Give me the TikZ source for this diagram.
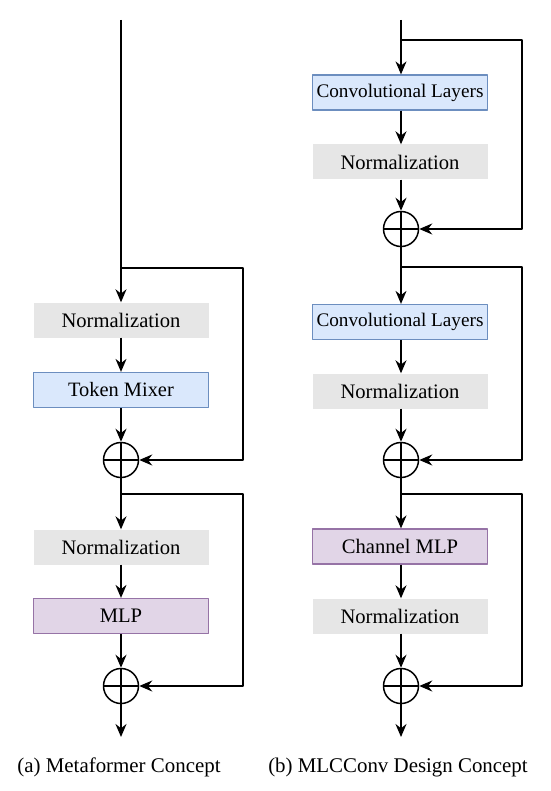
\documentclass[tikz,border=0pt]{standalone}
\usepackage{fontspec}
\setmainfont{Liberation Serif}
\usetikzlibrary{arrows.meta}
\definecolor{normgray}{HTML}{E6E6E6}
\definecolor{convfill}{HTML}{DAE8FC}
\definecolor{convline}{HTML}{6C8EBF}
\definecolor{mlpfill}{HTML}{E1D5E7}
\definecolor{mlpline}{HTML}{9673A6}
\begin{document}
\begin{tikzpicture}[x=1pt, y=-1pt, line join=round, >={Stealth[length=13pt, width=11pt]},
	font=\fontsize{20.6}{24}\selectfont,
	flow/.style={->, line width=1.5pt},
	caption/.style={font=\fontsize{20.9}{24}\selectfont},
	normbox/.style={fill=normgray, minimum width=175pt, minimum height=35pt, inner sep=0pt},
	convbox/.style={normbox, fill=convfill, draw=convline, line width=1.2pt, font=\fontsize{19.2}{24}\selectfont},
	mlpbox/.style={normbox, fill=mlpfill, draw=mlpline, line width=1.2pt},
	sum/.style={circle, draw, line width=1.5pt, minimum size=35pt, inner sep=0pt,
		path picture={\draw[line width=1.5pt] (path picture bounding box.north) -- (path picture bounding box.south)
			(path picture bounding box.west) -- (path picture bounding box.east);}}]
	\useasboundingbox (0,0) rectangle (550,791);
	% (a)
	\coordinate (a-in) at (121,20);
	\coordinate (a-skip1) at (121,268);
	\coordinate (a-skip2) at (121,494);
	\coordinate (a-out) at (121,737);
	\node[normbox] (a-norm1) at (121,320) {Normalization};
	\node[convbox, font=\fontsize{20.4}{24}\selectfont] (a-mix) at (121,390) {Token Mixer};
	\node[sum] (a-add1) at (121,460) {};
	\node[normbox] (a-norm2) at (121,547) {Normalization};
	\node[mlpbox] (a-mlp) at (121,616) {MLP};
	\node[sum] (a-add2) at (121,686) {};
	\node[caption] (a-cap) at (119,767) {(a) Metaformer Concept};
	\draw[flow] (a-in) -- (a-norm1);
	\draw[flow] (a-norm1) -- (a-mix);
	\draw[flow] (a-mix) -- (a-add1);
	\draw[flow] (a-add1) -- (a-norm2);
	\draw[flow] (a-norm2) -- (a-mlp);
	\draw[flow] (a-mlp) -- (a-add2);
	\draw[flow] (a-add2) -- (a-out);
	\draw[flow] (a-skip1) -- (243,268) |- (a-add1);
	\draw[flow] (a-skip2) -- (243,494) |- (a-add2);
	% (b)
	\coordinate (b-in) at (401,20);
	\coordinate (b-skip1) at (401,40);
	\coordinate (b-skip2) at (401,267);
	\coordinate (b-skip3) at (401,494);
	\coordinate (b-out) at (401,737);
	\node[convbox] (b-conv1) at (400,92.5) {Convolutional Layers};
	\node[normbox] (b-norm1) at (400,162) {Normalization};
	\node[sum] (b-add1) at (401,229) {};
	\node[convbox] (b-conv2) at (400,322) {Convolutional Layers};
	\node[normbox] (b-norm2) at (400,391) {Normalization};
	\node[sum] (b-add2) at (401,460) {};
	\node[mlpbox] (b-mlp) at (400,546.5) {Channel MLP};
	\node[normbox] (b-norm3) at (400,616) {Normalization};
	\node[sum] (b-add3) at (401,686) {};
	\node[caption] (b-cap) at (398,767) {(b) MLCConv Design Concept};
	\draw[flow] (b-in) -- (b-in |- b-conv1.north);
	\draw[flow] (b-conv1.south -| b-in) -- (b-in |- b-norm1.north);
	\draw[flow] (b-norm1.south -| b-in) -- (b-add1);
	\draw[flow] (b-add1) -- (b-in |- b-conv2.north);
	\draw[flow] (b-conv2.south -| b-in) -- (b-in |- b-norm2.north);
	\draw[flow] (b-norm2.south -| b-in) -- (b-add2);
	\draw[flow] (b-add2) -- (b-in |- b-mlp.north);
	\draw[flow] (b-mlp.south -| b-in) -- (b-in |- b-norm3.north);
	\draw[flow] (b-norm3.south -| b-in) -- (b-add3);
	\draw[flow] (b-add3) -- (b-out);
	\draw[flow] (b-skip1) -- (522,40) |- (b-add1);
	\draw[flow] (b-skip2) -- (522,267) |- (b-add2);
	\draw[flow] (b-skip3) -- (522,494) |- (b-add3);
\end{tikzpicture}
\end{document}
